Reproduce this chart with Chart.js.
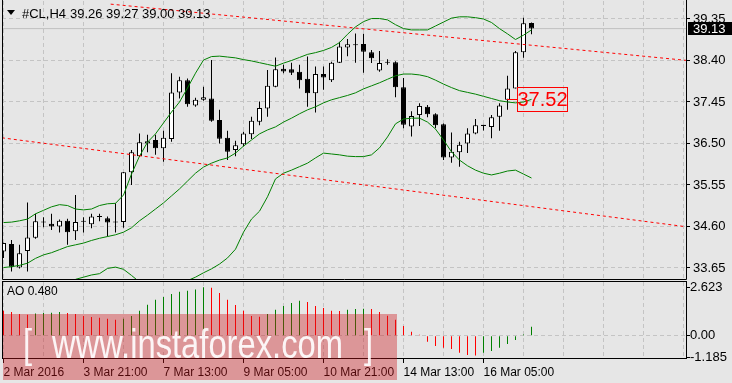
<!DOCTYPE html>
<html>
<head>
<meta charset="utf-8">
<script src="https://cdn.jsdelivr.net/npm/chart.js@4.4.1/dist/chart.umd.min.js"></script>
<style>
  html, body { margin: 0; padding: 0; background: #e6e6e6; }
  #wrap { position: relative; width: 732px; height: 383px; overflow: hidden; }
  #priceChart { position: absolute; left: 0; top: 0; }
  #aoChart { position: absolute; left: 0; top: 281px; }
</style>
</head>
<body>
<div id="wrap">
  <canvas id="priceChart" width="732" height="281"></canvas>
  <canvas id="aoChart" width="732" height="102"></canvas>
</div>
<script>
// #CL H4 candles, bar 0 = 2 Mar 2016 05:00
const symbolName = '#CL,H4';
const opens = [
  34.03, 34.20, 33.66, 34.04, 34.34, 34.70, 34.66, 34.60, 34.73, 34.49,
  34.71, 34.65, 34.82, 34.79, 34.70, 34.70, 35.84, 36.21, 36.50, 36.58,
  36.39, 36.60, 37.67, 37.95, 37.37, 37.50, 37.53, 37.04, 36.63, 36.35,
  36.48, 36.71, 37.00, 37.30, 37.80, 38.21, 38.20, 38.14, 37.98, 37.65,
  38.09, 37.95, 38.35, 38.70, 38.76, 38.78, 38.59, 38.17, 38.35, 38.36,
  37.79, 36.89, 37.15, 37.34, 37.17, 36.94, 36.18, 36.30, 36.50, 36.73,
  36.93, 36.88, 37.11, 37.50, 37.76, 38.59, 39.26
];
const highs = [
  34.23, 34.29, 34.18, 35.15, 34.89, 34.81, 34.89, 34.76, 34.78, 35.32,
  34.81, 34.89, 34.89, 34.83, 35.13, 35.85, 36.35, 36.73, 36.70, 36.70,
  36.79, 38.11, 38.03, 37.99, 37.55, 37.80, 38.41, 37.27, 36.79, 36.56,
  36.77, 37.11, 37.46, 38.18, 38.47, 38.30, 38.35, 38.30, 38.49, 38.26,
  38.26, 38.37, 38.83, 38.89, 39.02, 39.01, 38.64, 38.62, 38.43, 38.38,
  38.00, 37.24, 37.42, 37.38, 37.19, 36.96, 36.75, 36.54, 36.85, 37.06,
  36.93, 37.15, 37.42, 38.05, 38.62, 39.38, 39.27
];
const lows = [
  33.88, 33.57, 33.64, 33.57, 34.32, 34.58, 34.52, 34.46, 34.18, 34.29,
  34.46, 34.56, 34.72, 34.37, 34.46, 34.57, 35.55, 36.19, 36.30, 36.24,
  36.08, 36.54, 37.53, 37.34, 37.34, 37.48, 37.00, 36.50, 36.12, 36.21,
  36.43, 36.60, 36.92, 37.11, 37.79, 38.11, 38.07, 37.76, 37.34, 37.21,
  37.73, 37.91, 38.34, 38.50, 38.35, 38.12, 38.34, 38.14, 38.30, 37.56,
  36.85, 36.66, 36.90, 37.10, 36.85, 36.12, 36.06, 35.97, 36.28, 36.71,
  36.80, 36.62, 36.79, 37.27, 37.76, 38.46, 39.00
];
const closes = [
  34.22, 33.68, 33.99, 34.35, 34.72, 34.69, 34.60, 34.73, 34.47, 34.70,
  34.73, 34.83, 34.84, 34.69, 34.69, 35.84, 36.30, 36.53, 36.55, 36.39,
  36.63, 37.67, 37.95, 37.40, 37.50, 37.56, 37.02, 36.61, 36.31, 36.46,
  36.73, 37.02, 37.31, 37.82, 38.20, 38.15, 38.12, 37.95, 37.65, 38.09,
  38.01, 38.35, 38.72, 38.77, 38.75, 38.60, 38.45, 38.34, 38.36, 37.79,
  36.93, 37.13, 37.36, 37.17, 36.92, 36.18, 36.31, 36.47, 36.73, 36.92,
  36.90, 37.10, 37.37, 37.76, 38.59, 39.25, 39.13
];

// Bollinger bands
const bandUpper = [
  34.69, 34.70, 34.73, 34.77, 34.89, 34.97, 35.05, 35.10, 35.08, 35.00,
  34.98, 35.00, 35.08, 35.12, 35.13, 35.32, 35.80, 36.21, 36.53, 36.72,
  36.97, 37.22, 37.45, 37.77, 38.11, 38.41, 38.49, 38.50, 38.48, 38.46,
  38.42, 38.39, 38.35, 38.31, 38.27, 38.34, 38.40, 38.47, 38.54, 38.58,
  38.63, 38.70, 38.81, 39.00, 39.17, 39.29, 39.36, 39.36, 39.33, 39.22,
  39.13, 39.10, 39.10, 39.10, 39.19, 39.28, 39.37, 39.40, 39.40, 39.38,
  39.35, 39.27, 39.13, 39.01, 38.88, 38.98, 39.10
];
const bandMiddle = [
  33.66, 33.68, 33.71, 33.76, 33.87, 33.95, 34.00, 34.07, 34.14, 34.18,
  34.22, 34.28, 34.33, 34.37, 34.41, 34.47, 34.57, 34.73, 34.86, 35.00,
  35.14, 35.30, 35.46, 35.64, 35.82, 35.96, 36.05, 36.12, 36.17, 36.28,
  36.44, 36.58, 36.72, 36.81, 36.88, 36.99, 37.08, 37.18, 37.27, 37.34,
  37.43, 37.50, 37.55, 37.60, 37.66, 37.75, 37.82, 37.89, 37.97, 38.05,
  38.09, 38.09, 38.07, 38.03, 37.95, 37.86, 37.78, 37.71, 37.67, 37.63,
  37.58, 37.53, 37.48, 37.45, 37.43, 37.45, 37.51
];
const bandLower = [
  null, null, null, null, null, null, null, null, null,
  33.39, 33.44, 33.49, 33.52, 33.64, 33.67, 33.62, 33.48, 33.33, 33.19,
  33.10, 33.05, 33.10, 33.26, 33.36, 33.44, 33.54, 33.63, 33.74, 33.88,
  34.08, 34.47, 34.77, 34.95, 35.28, 35.69, 35.82, 35.89, 35.97, 36.05,
  36.17, 36.28, 36.26, 36.24, 36.21, 36.20, 36.20, 36.24, 36.40, 36.65,
  36.95, 37.06, 37.08, 37.08, 36.99, 36.83, 36.58, 36.31, 36.12, 35.99,
  35.89, 35.82, 35.78, 35.82, 35.87, 35.89, 35.80, 35.71
];

// Awesome Oscillator
const aoValues = [
  1.354, 1.282, 1.173, 1.137, 1.209, 1.227, 1.245, 1.282, 1.227, 1.173,
  1.065, 1.011, 0.975, 0.921, 0.866, 0.921, 1.065, 1.354, 1.679, 1.949,
  2.094, 2.256, 2.383, 2.437, 2.509, 2.623, 2.600, 2.310, 1.950, 1.660,
  1.354, 1.065, 1.030, 1.173, 1.408, 1.606, 1.769, 1.895, 1.823, 1.606,
  1.498, 1.354, 1.336, 1.408, 1.444, 1.462, 1.444, 1.282, 1.083, 0.866,
  0.523, 0.217, 0.054, -0.325, -0.560, -0.650, -0.720, -0.920, -1.050, -1.070,
  -0.920, -0.830, -0.650, -0.450, -0.235, 0.070, 0.480
];

const priceTicks = [39.35, 38.40, 37.45, 36.50, 35.55, 34.60, 33.65];
const aoTicks = [2.623, 0, -1.185];
const aoTickLabels = ['2.623', '0.00', '-1.185'];
const timeLabels = ['2 Mar 2016', '3 Mar 21:00', '7 Mar 13:00', '9 Mar 05:00', '10 Mar 21:00', '14 Mar 13:00', '16 Mar 05:00'];
const timeLabelBars = [0, 10, 20, 30, 40, 50, 60];

// drawn objects
const upperTrend = [{x: 13.4, y: 39.69}, {x: 85.5, y: 38.40}];
const lowerTrend = [{x: -0.2, y: 36.63}, {x: 85.5, y: 34.59}];
const markPrice = 37.52;
const markBar = 63;

const FONT = '"Liberation Sans", Arial, sans-serif';
const gridColor = '#c4c4c4';
const xMin = -0.1875, xMax = 85.4375;
const priceMin = 33.375, priceMax = 39.762;
const aoMin = -1.263, aoMax = 2.91;
const last = closes.length - 1;
const gridBars = [];
for (let b = 0; b <= 85; b += 5) gridBars.push(b);

function noPad(s) {
  s.paddingTop = 0; s.paddingBottom = 0; s.paddingLeft = 0; s.paddingRight = 0;
}

const priceDecor = {
  id: 'priceDecor',
  afterDraw(chart) {
    const {ctx, chartArea: a, scales: {x, y}} = chart;
    ctx.save();
    ctx.strokeStyle = '#000';
    ctx.lineWidth = 1;
    ctx.beginPath();
    ctx.moveTo(a.left + 0.5, a.top - 1);
    ctx.lineTo(a.left + 0.5, a.bottom - 0.5);
    ctx.lineTo(a.right - 0.5, a.bottom - 0.5);
    ctx.lineTo(a.right - 0.5, a.top - 1);
    ctx.stroke();

    // header
    ctx.fillStyle = '#000';
    ctx.beginPath();
    ctx.moveTo(7, 10); ctx.lineTo(15, 10); ctx.lineTo(11, 15); ctx.closePath();
    ctx.fill();
    ctx.font = '13px ' + FONT;
    ctx.textBaseline = 'alphabetic';
    ctx.fillText(symbolName, 22, 17.5);
    const ohlc = [opens[last], highs[last], lows[last], closes[last]];
    [70, 106, 142, 178].forEach((px, k) => ctx.fillText(ohlc[k].toFixed(2), px, 17.5));

    // bid price tag
    const yb = Math.round(y.getPixelForValue(closes[last]));
    ctx.fillStyle = '#000';
    ctx.fillRect(a.right + 1, yb - 7, 45, 13);
    ctx.fillStyle = '#fff';
    ctx.textBaseline = 'middle';
    ctx.fillText(closes[last].toFixed(2), a.right + 6, yb);

    // price mark 37.52
    const ym = Math.round(y.getPixelForValue(markPrice));
    const xm = Math.round(x.getPixelForValue(markBar));
    ctx.strokeStyle = '#ff0000';
    ctx.beginPath();
    ctx.moveTo(xm, ym + 0.5);
    ctx.lineTo(xm + 11, ym + 0.5);
    ctx.stroke();
    ctx.strokeRect(xm + 10.5, ym - 11.5, 50, 24);
    ctx.fillStyle = '#ff0000';
    ctx.font = '20px ' + FONT;
    ctx.textAlign = 'center';
    ctx.fillText(markPrice.toFixed(2), xm + 35.5, ym + 1.5);
    ctx.restore();
  }
};

const aoDecor = {
  id: 'aoDecor',
  afterDraw(chart) {
    const {ctx, chartArea: a} = chart;
    ctx.save();
    ctx.strokeStyle = '#000';
    ctx.lineWidth = 1;
    ctx.strokeRect(a.left + 0.5, a.top - 0.5, a.right - a.left - 1, a.bottom - a.top);
    ctx.fillStyle = '#000';
    ctx.font = '12px ' + FONT;
    ctx.textBaseline = 'middle';
    ctx.fillText('AO ' + aoValues[last].toFixed(3), 7, 11);

    // watermark
    ctx.fillStyle = 'rgba(205,20,25,0.38)';
    ctx.fillRect(3, 33, 394, 66);
    ctx.fillStyle = 'rgba(255,255,255,0.9)';
    ctx.font = '40px ' + FONT;
    ctx.textBaseline = 'alphabetic';
    const base = 76.5;
    const main = 'www.instaforex.com';
    const sx = 291 / ctx.measureText(main).width;
    const put = (t, px) => {
      ctx.save(); ctx.translate(px, base); ctx.scale(sx, 1); ctx.fillText(t, 0, 0); ctx.restore();
    };
    put('[', 23);
    put(main, 52);
    put(']', 364);
    ctx.restore();
  }
};

new Chart(document.getElementById('priceChart'), {
  type: 'bar',
  data: {
    datasets: [
      {
        type: 'line', data: [{x: xMin, y: closes[last]}, {x: xMax, y: closes[last]}],
        borderColor: '#c0c0c0', borderWidth: 1, pointRadius: 0, order: 6
      },
      {
        type: 'bar', data: highs.map((h, i) => ({x: i, y: [lows[i], h]})),
        backgroundColor: '#000', borderWidth: 0, maxBarThickness: 1, grouped: false, order: 4
      },
      {
        type: 'bar', data: opens.map((o, i) => ({x: i, y: [o, closes[i]]})),
        backgroundColor: opens.map((o, i) => closes[i] >= o ? '#ffffff' : '#000000'),
        borderColor: '#000', borderWidth: 1, borderSkipped: false, minBarLength: 1,
        maxBarThickness: 5, grouped: false, order: 3
      },
      {
        type: 'line', data: bandUpper.map((v, i) => ({x: i, y: v})),
        borderColor: '#008000', borderWidth: 1, pointRadius: 0, order: 1
      },
      {
        type: 'line', data: bandMiddle.map((v, i) => ({x: i, y: v})),
        borderColor: '#008000', borderWidth: 1, pointRadius: 0, order: 1
      },
      {
        type: 'line', data: bandLower.map((v, i) => ({x: i, y: v})),
        borderColor: '#008000', borderWidth: 1, pointRadius: 0, spanGaps: false, order: 1
      },
      {
        type: 'line', data: upperTrend, borderColor: '#ff0000', borderWidth: 1,
        borderDash: [3, 3], pointRadius: 0, order: 0
      },
      {
        type: 'line', data: lowerTrend, borderColor: '#ff0000', borderWidth: 1,
        borderDash: [3, 3], pointRadius: 0, order: 0
      }
    ]
  },
  options: {
    responsive: false,
    animation: false,
    devicePixelRatio: 1,
    events: [],
    layout: { padding: { left: 2, top: 1, right: 0, bottom: 1 } },
    plugins: { legend: { display: false }, tooltip: { enabled: false } },
    scales: {
      x: {
        type: 'linear', min: xMin, max: xMax, offset: false,
        afterBuildTicks: s => { s.ticks = gridBars.map(v => ({value: v})); },
        afterFit: s => { s.height = 0; noPad(s); },
        ticks: { display: false },
        grid: { color: gridColor, offset: false, drawTicks: false },
        border: { display: false, dash: [4, 3] }
      },
      y: {
        position: 'right', min: priceMin, max: priceMax,
        afterBuildTicks: s => { s.ticks = priceTicks.map(v => ({value: v})); },
        afterFit: s => { s.width = 45; noPad(s); },
        ticks: {
          color: '#000', padding: 3, font: { family: FONT, size: 13 },
          callback: v => Number(v).toFixed(2)
        },
        grid: { color: gridColor, tickColor: '#000', tickLength: 3 },
        border: { display: false, dash: [4, 3] }
      }
    }
  },
  plugins: [priceDecor]
});

const aoColors = aoValues.map((v, i) => (i > 0 && v > aoValues[i - 1]) ? '#008000' : '#ff0000');

new Chart(document.getElementById('aoChart'), {
  type: 'bar',
  data: {
    datasets: [{
      data: aoValues.map((v, i) => ({x: i, y: v})),
      backgroundColor: aoColors, borderWidth: 0, maxBarThickness: 1, grouped: false
    }]
  },
  options: {
    responsive: false,
    animation: false,
    devicePixelRatio: 1,
    events: [],
    layout: { padding: { left: 2, top: 1, right: 0, bottom: 0 } },
    plugins: { legend: { display: false }, tooltip: { enabled: false } },
    scales: {
      x: {
        type: 'linear', min: xMin, max: xMax, offset: false,
        afterBuildTicks: s => { s.ticks = gridBars.map(v => ({value: v})); },
        afterFit: s => { s.height = 24; noPad(s); },
        ticks: {
          autoSkip: false, maxRotation: 0, minRotation: 0, align: 'start', padding: 2,
          color: '#000', font: { family: FONT, size: 12 },
          callback: v => {
            const k = timeLabelBars.indexOf(v);
            return k >= 0 ? timeLabels[k] : '';
          }
        },
        grid: {
          color: gridColor, offset: false, tickLength: 4,
          tickColor: c => (c.tick && timeLabelBars.includes(c.tick.value)) ? '#000' : 'rgba(0,0,0,0)'
        },
        border: { display: false, dash: [4, 3] }
      },
      y: {
        position: 'right', min: aoMin, max: aoMax,
        afterBuildTicks: s => { s.ticks = aoTicks.map(v => ({value: v})); },
        afterFit: s => { s.width = 45; noPad(s); },
        ticks: {
          color: '#000', padding: 0, font: { family: FONT, size: 13 },
          callback: v => aoTickLabels[aoTicks.indexOf(v)]
        },
        grid: {
          color: c => (c.tick && c.tick.value === 0) ? gridColor : 'rgba(0,0,0,0)',
          tickColor: '#000', tickLength: 3
        },
        border: { display: false, dash: [4, 3] }
      }
    }
  },
  plugins: [aoDecor]
});
</script>
</body>
</html>
